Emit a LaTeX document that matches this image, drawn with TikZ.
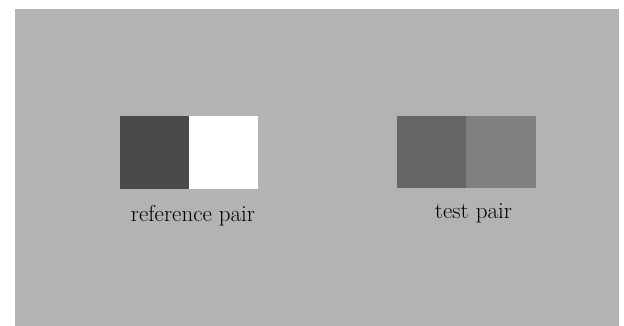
\documentclass[tikz,border=0pt]{standalone}
\usetikzlibrary{positioning}
\definecolor{bggray}{HTML}{B3B3B3}
\definecolor{refdark}{HTML}{4A4A4A}
\definecolor{testleft}{HTML}{666666}
\definecolor{testright}{HTML}{808080}
\tikzset{
  patch/.style={draw=none,inner sep=0pt,minimum width=69pt,minimum height=73pt},
  pairlabel/.style={anchor=base,inner sep=0pt,font=\fontsize{23}{27}\selectfont}
}
\begin{document}
\begin{tikzpicture}[x=1pt,y=-1pt]
\fill[white] (0,0) rectangle (624,326);
\useasboundingbox (0,0) rectangle (624,326);
\fill[bggray] (15,9) rectangle (619,326); % background
% reference pair
\node[patch,fill=refdark] (refa) at (154.5,152.5) {};
\node[patch,fill=white,right=0pt of refa] (refb) {};
\node[pairlabel] (reflabel) at (193,221) {reference pair};
% test pair
\node[patch,fill=testleft,minimum height=72pt] (testa) at (431.5,152) {};
\node[patch,fill=testright,minimum width=70pt,minimum height=72pt,right=0pt of testa] (testb) {};
\node[pairlabel] (testlabel) at (473.5,218) {test pair};
\end{tikzpicture}
\end{document}
